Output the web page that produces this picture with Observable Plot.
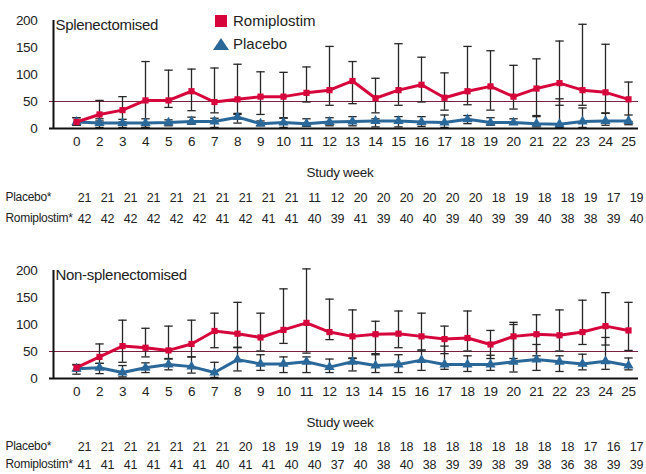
<!DOCTYPE html>
<html>
<head>
<meta charset="utf-8">
<script src="https://cdn.jsdelivr.net/npm/d3@7"></script>
<script src="https://cdn.jsdelivr.net/npm/@observablehq/plot@0.6"></script>
<style>
  body { margin: 0; background: #fff; }
  .panel { position: relative; width: 646px; height: 250px; }
  .panel svg { display: block; }
  .panel svg text { letter-spacing: -0.3px; }
  .legend { position: absolute; left: 213px; top: 9px; font-family: "Liberation Sans", Arial, sans-serif; font-size: 15px; color: #222; }
  .legend div { display: flex; align-items: center; height: 23px; }
  .legend svg { margin-right: 4px; }
</style>
</head>
<body>
<div id="panelTop" class="panel"></div>
<div id="panelBottom" class="panel"></div>
<script>
const weeks = ["0","2","3","4","5","6","7","8","9","10","11","12","13","14","15","16","17","18","19","20","21","22","23","24","25"];

// Splenectomised
const romiS   = [12,26,34,52,52,69,49,54,59,59,66,71,88,56,71,81,57,69,78,59,74,84,71,67,54];
const romiSHi = [20,52,59,124,108,110,112,119,105,104,114,152,124,93,157,132,103,152,144,117,129,162,193,156,86];
const romiSLo = [6,14,12,2,39,33,29,26,26,19,49,43,46,29,43,49,34,44,34,36,24,43,43,29,13];
const plaS    = [12,10,10,10,11,13,13,21,9,11,9,12,13,14,14,12,11,17,11,11,9,8,13,14,14];
const plaSHi  = [20,18,17,18,16,21,19,28,14,20,18,20,22,18,22,22,25,24,20,18,22,55,38,28,25];
const plaSLo  = [6,2,2,2,5,8,2,10,5,2,4,5,5,3,3,4,2,9,6,8,3,2,2,6,7];
const nPlaS   = [21,21,21,21,21,21,21,21,21,21,11,12,20,20,20,20,20,20,18,19,18,18,19,17,19];
const nRomiS  = [42,42,42,42,42,42,41,42,41,41,40,39,41,39,40,40,39,40,39,39,40,38,38,39,40];

// Non-splenectomised
const romiN   = [20,40,60,57,52,64,88,83,76,90,103,86,78,82,83,78,73,75,63,78,82,80,86,97,89];
const romiNHi = [26,64,108,93,97,108,121,141,121,166,203,147,127,106,125,121,97,125,89,104,118,127,145,159,141];
const romiNLo = [14,28,30,40,37,40,57,57,51,65,47,72,37,46,57,51,46,51,37,37,42,51,63,62,52];
const plaN    = [18,20,11,20,26,22,11,35,27,27,31,21,31,24,26,34,26,26,26,31,35,31,27,32,24];
const plaNHi  = [25,28,24,29,36,40,30,58,44,40,40,36,38,44,44,53,60,42,43,100,63,42,45,76,38];
const plaNLo  = [8,9,3,11,16,10,2,14,15,11,11,11,14,11,11,15,17,13,15,12,15,13,16,17,16];
const nPlaN   = [21,21,21,21,21,21,21,20,18,19,19,19,18,18,18,18,18,18,18,18,18,18,17,16,17];
const nRomiN  = [41,41,41,41,41,41,40,41,41,40,40,37,40,38,40,38,39,39,38,39,38,36,38,39,39];

const yTicks = [0,50,100,150,200];
const RED = "#d6063c", BLUE = "#2a689a", BAR = "#262626", REF = "#7a2142";
const FONT = '"Liberation Sans", Arial, sans-serif';

// horizontal cap symbol for error bars
const capSymbol = {
  draw(context, size) {
    const w = Math.sqrt(size / Math.PI);
    context.moveTo(-w, 0);
    context.lineTo(w, 0);
  }
};

function panel(title, romi, romiLo, romiHi, pla, plaLo, plaHi, nPla, nRomi, row1, row2) {
  const rows = weeks.map((w, i) => ({
    week: w, romi: romi[i], romiLo: romiLo[i], romiHi: romiHi[i],
    pla: pla[i], plaLo: plaLo[i], plaHi: plaHi[i], nPla: nPla[i], nRomi: nRomi[i]
  }));
  const cap = {x: "week", symbol: capSymbol, r: 4.2, fill: "none", stroke: BAR, strokeWidth: 1.3};
  const num = {lineAnchor: "middle", fontSize: 12.5, fill: "#222"};
  const lab = {lineAnchor: "middle", fontSize: 12, fill: "#222", frameAnchor: "bottom-left", dx: -44, textAnchor: "start"};
  return Plot.plot({
    width: 646, height: 250,
    marginLeft: 49, marginRight: 8, marginTop: 20, marginBottom: 122,
    style: {fontFamily: FONT, fontSize: "13.5px", color: "#222", background: "white", overflow: "visible"},
    x: {type: "point", domain: weeks, range: [72, 632], padding: 0, tickSize: 0, tickPadding: 8, label: null},
    y: {domain: [0, 200], ticks: yTicks, tickSize: 0, tickPadding: 12, label: null},
    marks: [
      Plot.ruleY([50], {stroke: REF, strokeWidth: 1.2}),
      Plot.ruleX(rows, {x: "week", y1: "plaLo", y2: "plaHi", stroke: BAR, strokeWidth: 1.3}),
      Plot.dot(rows, {...cap, y: "plaLo"}),
      Plot.dot(rows, {...cap, y: "plaHi"}),
      Plot.ruleX(rows, {x: "week", y1: "romiLo", y2: "romiHi", stroke: BAR, strokeWidth: 1.3}),
      Plot.dot(rows, {...cap, y: "romiLo"}),
      Plot.dot(rows, {...cap, y: "romiHi"}),
      Plot.line(rows, {x: "week", y: "pla", stroke: BLUE, strokeWidth: 3}),
      Plot.dot(rows, {x: "week", y: "pla", symbol: "triangle", fill: BLUE, r: 3.8}),
      Plot.line(rows, {x: "week", y: "romi", stroke: RED, strokeWidth: 3}),
      Plot.dot(rows, {x: "week", y: "romi", symbol: "square", fill: RED, r: 3.5}),
      // axis lines
      Plot.ruleY([0], {stroke: "#111", strokeWidth: 2.2}),
      Plot.ruleX([weeks[0]], {x: d => d, y1: 0, y2: 200, dx: -23, stroke: "#111", strokeWidth: 2}),
      Plot.text([title], {frameAnchor: "top-left", dx: 6, dy: 5, textAnchor: "start", lineAnchor: "middle", fontSize: 15, fill: "#222"}),
      Plot.text(["Study week"], {frameAnchor: "bottom", dx: -4, dy: 44, lineAnchor: "middle", fontSize: 13.5, fill: "#222"}),
      Plot.text(["Placebo*"], {...lab, dy: row1}),
      Plot.text(["Romiplostim*"], {...lab, dy: row2}),
      Plot.text(rows, {...num, x: "week", text: "nPla", frameAnchor: "bottom", dx: 8, dy: row1}),
      Plot.text(rows, {...num, x: "week", text: "nRomi", frameAnchor: "bottom", dx: 8, dy: row2})
    ]
  });
}

const topDiv = document.getElementById("panelTop");
topDiv.appendChild(panel("Splenectomised", romiS, romiSLo, romiSHi, plaS, plaSLo, plaSHi, nPlaS, nRomiS, 69, 90));
const legend = document.createElement("div");
legend.className = "legend";
legend.innerHTML =
  '<div><svg width="16" height="14"><rect x="2" y="1" width="12" height="12" fill="' + RED + '"/></svg>Romiplostim</div>' +
  '<div><svg width="16" height="14"><path d="M0,13 L8,1 L16,13 Z" fill="' + BLUE + '"/></svg>Placebo</div>';
topDiv.appendChild(legend);

document.getElementById("panelBottom").appendChild(panel("Non-splenectomised", romiN, romiNLo, romiNHi, plaN, plaNLo, plaNHi, nPlaN, nRomiN, 68, 86));
</script>
</body>
</html>
